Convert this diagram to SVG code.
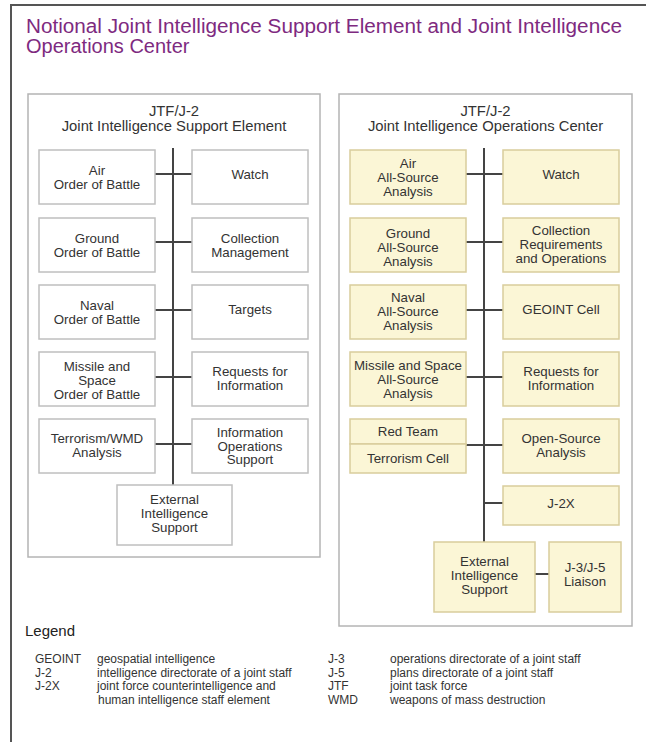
<svg xmlns="http://www.w3.org/2000/svg" width="646" height="742" viewBox="0 0 646 742">
<style>
text{font-family:"Liberation Sans",Arial,sans-serif;fill:#333;text-anchor:middle}
.title{font-size:20px;fill:#7E2A80;text-anchor:start}
.hdr{font-size:14.8px}
.n{font-size:13.3px}
.lg{font-size:15px;text-anchor:start;fill:#222}
.le{font-size:12px;text-anchor:start;fill:#333}
.panel{fill:#fff;stroke:#B4B4B4;stroke-width:1.5}
.g{fill:#fff;stroke:#BFBFBF;stroke-width:1.5}
.y{fill:#FBF6D6;stroke:#D9CD9C;stroke-width:1.5}
.c{stroke:#444;stroke-width:2;fill:none}
</style>
<rect width="646" height="742" fill="#fff"/>
<path d="M11 742V5H646" fill="none" stroke="#555" stroke-width="2"/>
<text class="title" x="26" y="33" textLength="596" lengthAdjust="spacingAndGlyphs">Notional Joint Intelligence Support Element and Joint Intelligence</text>
<text class="title" x="26" y="53">Operations Center</text>

<g id="panel-jise">
<rect class="panel" x="28" y="94" width="292" height="463"/>
<text class="hdr" x="174" y="116">JTF/J-2</text>
<text class="hdr" x="174" y="131">Joint Intelligence Support Element</text>
</g>
<g id="panel-jioc">
<rect class="panel" x="339" y="94" width="293" height="532"/>
<text class="hdr" x="485.5" y="116">JTF/J-2</text>
<text class="hdr" x="485.5" y="131">Joint Intelligence Operations Center</text>
</g>

<g id="connectors">
<path class="c" d="M173 148V485M155 174H192M155 242H192M155 310H192M155 377H192M155 444H192"/>
<path class="c" d="M484 148V542M466 174H503M466 242H503M466 310H503M466 377H503M466 445H503M484 503H503M535 574H549"/>
</g>

<g id="l-air"><rect class="g" x="39" y="150" width="116" height="54"/><text class="n" x="97" y="175">Air</text><text class="n" x="97" y="189">Order of Battle</text></g>
<g id="l-watch"><rect class="g" x="192" y="150" width="116" height="54"/><text class="n" x="250" y="179">Watch</text></g>
<g id="l-ground"><rect class="g" x="39" y="218" width="116" height="54"/><text class="n" x="97" y="243">Ground</text><text class="n" x="97" y="257">Order of Battle</text></g>
<g id="l-collection"><rect class="g" x="192" y="218" width="116" height="54"/><text class="n" x="250" y="243">Collection</text><text class="n" x="250" y="257">Management</text></g>
<g id="l-naval"><rect class="g" x="39" y="285" width="116" height="54"/><text class="n" x="97" y="310">Naval</text><text class="n" x="97" y="324">Order of Battle</text></g>
<g id="l-targets"><rect class="g" x="192" y="285" width="116" height="54"/><text class="n" x="250" y="314">Targets</text></g>
<g id="l-missile"><rect class="g" x="39" y="352" width="116" height="54"/><text class="n" x="97" y="371">Missile and</text><text class="n" x="97" y="385">Space</text><text class="n" x="97" y="399">Order of Battle</text></g>
<g id="l-rfi"><rect class="g" x="192" y="352" width="116" height="54"/><text class="n" x="250" y="376">Requests for</text><text class="n" x="250" y="390">Information</text></g>
<g id="l-terrorism"><rect class="g" x="39" y="419" width="116" height="54"/><text class="n" x="97" y="443">Terrorism/WMD</text><text class="n" x="97" y="457">Analysis</text></g>
<g id="l-io"><rect class="g" x="192" y="419" width="116" height="54"/><text class="n" x="250" y="437">Information</text><text class="n" x="250" y="450.5">Operations</text><text class="n" x="250" y="464">Support</text></g>
<g id="l-external"><rect class="g" x="117" y="485" width="115" height="60"/><text class="n" x="174.5" y="504">External</text><text class="n" x="174.5" y="518">Intelligence</text><text class="n" x="174.5" y="532">Support</text></g>

<g id="r-air"><rect class="y" x="350" y="150" width="116" height="54"/><text class="n" x="408" y="168">Air</text><text class="n" x="408" y="182">All-Source</text><text class="n" x="408" y="196">Analysis</text></g>
<g id="r-watch"><rect class="y" x="503" y="150" width="116" height="54"/><text class="n" x="561" y="179">Watch</text></g>
<g id="r-ground"><rect class="y" x="350" y="218" width="116" height="54"/><text class="n" x="408" y="238">Ground</text><text class="n" x="408" y="252">All-Source</text><text class="n" x="408" y="266">Analysis</text></g>
<g id="r-collection"><rect class="y" x="503" y="218" width="116" height="54"/><text class="n" x="561" y="235">Collection</text><text class="n" x="561" y="249">Requirements</text><text class="n" x="561" y="263">and Operations</text></g>
<g id="r-naval"><rect class="y" x="350" y="285" width="116" height="54"/><text class="n" x="408" y="302">Naval</text><text class="n" x="408" y="316">All-Source</text><text class="n" x="408" y="330">Analysis</text></g>
<g id="r-geoint"><rect class="y" x="503" y="285" width="116" height="54"/><text class="n" x="561" y="314">GEOINT Cell</text></g>
<g id="r-missile"><rect class="y" x="350" y="352" width="116" height="54"/><text class="n" x="408" y="370">Missile and Space</text><text class="n" x="408" y="384">All-Source</text><text class="n" x="408" y="397.5">Analysis</text></g>
<g id="r-rfi"><rect class="y" x="503" y="352" width="116" height="54"/><text class="n" x="561" y="376">Requests for</text><text class="n" x="561" y="390">Information</text></g>
<g id="r-redteam"><rect class="y" x="350" y="419" width="116" height="25"/><text class="n" x="408" y="436">Red Team</text></g>
<g id="r-terrorism"><rect class="y" x="350" y="444" width="116" height="29"/><text class="n" x="408" y="463">Terrorism Cell</text></g>
<g id="r-osint"><rect class="y" x="503" y="419" width="116" height="54"/><text class="n" x="561" y="443">Open-Source</text><text class="n" x="561" y="457">Analysis</text></g>
<g id="r-j2x"><rect class="y" x="503" y="486" width="116" height="39"/><text class="n" x="561" y="508">J-2X</text></g>
<g id="r-external"><rect class="y" x="434" y="542" width="101" height="70"/><text class="n" x="484.5" y="566">External</text><text class="n" x="484.5" y="580">Intelligence</text><text class="n" x="484.5" y="594">Support</text></g>
<g id="r-liaison"><rect class="y" x="549" y="542" width="72" height="70"/><text class="n" x="585" y="572">J-3/J-5</text><text class="n" x="585" y="586">Liaison</text></g>

<g id="legend">
<text class="lg" x="25" y="636">Legend</text>
<text class="le" x="35" y="663">GEOINT</text><text class="le" x="97" y="663">geospatial intelligence</text>
<text class="le" x="35" y="676.5">J-2</text><text class="le" x="97" y="676.5">intelligence directorate of a joint staff</text>
<text class="le" x="35" y="690">J-2X</text><text class="le" x="97" y="690">joint force counterintelligence and</text>
<text class="le" x="98" y="703.5">human intelligence staff element</text>
<text class="le" x="328" y="663">J-3</text><text class="le" x="390" y="663">operations directorate of a joint staff</text>
<text class="le" x="328" y="676.5">J-5</text><text class="le" x="390" y="676.5">plans directorate of a joint staff</text>
<text class="le" x="328" y="690">JTF</text><text class="le" x="390" y="690">joint task force</text>
<text class="le" x="328" y="703.5">WMD</text><text class="le" x="390" y="703.5">weapons of mass destruction</text>
</g>
</svg>
